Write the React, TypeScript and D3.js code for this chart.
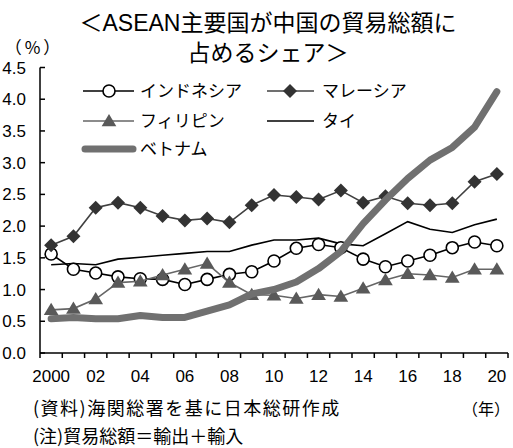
import React from "react";
import * as d3 from "d3";

// Years on the category axis
const years: string[] = [
  "2000", "2001", "2002", "2003", "2004", "2005", "2006", "2007", "2008", "2009", "2010",
  "2011", "2012", "2013", "2014", "2015", "2016", "2017", "2018", "2019", "2020",
];
const yearLabels: Record<string, string> = {
  "2000": "2000", "2002": "02", "2004": "04", "2006": "06", "2008": "08", "2010": "10",
  "2012": "12", "2014": "14", "2016": "16", "2018": "18", "2020": "20",
};
const yTicks: number[] = [0, 0.5, 1, 1.5, 2, 2.5, 3, 3.5, 4, 4.5];

// Share of China's total trade (%)
const indonesia: number[] = [1.56, 1.32, 1.26, 1.2, 1.17, 1.16, 1.08, 1.16, 1.24, 1.28, 1.45, 1.65, 1.71, 1.66, 1.48, 1.36, 1.45, 1.54, 1.66, 1.75, 1.69];
const malaysia: number[] = [1.7, 1.84, 2.29, 2.37, 2.29, 2.16, 2.09, 2.12, 2.06, 2.33, 2.49, 2.46, 2.42, 2.56, 2.37, 2.47, 2.36, 2.33, 2.36, 2.7, 2.82];
const philippines: number[] = [0.68, 0.7, 0.85, 1.11, 1.13, 1.23, 1.32, 1.41, 1.11, 0.92, 0.91, 0.86, 0.92, 0.89, 1.02, 1.15, 1.25, 1.23, 1.19, 1.32, 1.32];
const thailand: number[] = [1.39, 1.41, 1.39, 1.48, 1.51, 1.54, 1.57, 1.6, 1.6, 1.7, 1.78, 1.78, 1.81, 1.72, 1.69, 1.88, 2.07, 1.95, 1.9, 2.02, 2.11];
const vietnam: number[] = [0.54, 0.56, 0.54, 0.54, 0.59, 0.56, 0.56, 0.66, 0.76, 0.93, 1.0, 1.12, 1.33, 1.6, 2.04, 2.41, 2.75, 3.04, 3.24, 3.56, 4.12];

const W = 513;
const H = 448;
const LATIN = "'Liberation Sans', Arial, 'Noto Sans CJK JP', sans-serif";
const CJK = "'Noto Sans CJK JP', 'Liberation Sans', sans-serif";

const x = d3.scaleBand<string>().domain(years).range([40, 508]).paddingInner(0).paddingOuter(0);
const y = d3.scaleLinear().domain([0, 4.5]).range([353, 67.5]);
const cx = (yr: string) => (x(yr) as number) + x.bandwidth() / 2;

const lineGen = d3
  .line<number>()
  .x((_, i) => cx(years[i]))
  .y((v) => y(v));

const diamond = (px: number, py: number, r: number) =>
  `M${px},${py - r}L${px + r},${py}L${px},${py + r}L${px - r},${py}Z`;
const triangle = (px: number, py: number, r: number) =>
  `M${px},${py - r}L${px + r * 1.05},${py + r * 0.75}L${px - r * 1.05},${py + r * 0.75}Z`;

const MAL_LINE = "#404040";
const MAL_MARK = "#333";
const PHI_LINE = "#666";
const PHI_MARK = "#595959";
const VN = "#707070";

export default function App() {
  const step = x.step();
  const boundaries = d3.range(years.length + 1).map((i) => 40 + i * step);

  const legendRows = [91, 121, 149];

  return (
    <svg width={W} height={H} style={{ position: "absolute", left: 0, top: 0, background: "#fff" }}>
      <rect width={W} height={H} fill="#fff" />
      {/* Title */}
      <text x={268} y={31} textAnchor="middle" fontFamily={LATIN} fontSize={23} fill="#000">
        ＜ASEAN主要国が中国の貿易総額に
      </text>
      <text x={268} y={61} textAnchor="middle" fontFamily={CJK} fontSize={23} fill="#000">
        占めるシェア＞
      </text>
      <text x={34} y={54} textAnchor="middle" fontFamily={CJK} fontSize={17} letterSpacing={3} fill="#000">
        （%）
      </text>

      {/* Axes */}
      <line x1={40} x2={40} y1={y(4.5)} y2={y(0)} stroke="#000" strokeWidth={1.5} />
      <line x1={40} x2={508} y1={y(0)} y2={y(0)} stroke="#000" strokeWidth={1.5} />
      {yTicks.map((t) => (
        <g key={t}>
          <line x1={40} x2={45} y1={y(t)} y2={y(t)} stroke="#000" strokeWidth={1.5} />
          <text x={26} y={y(t) + 6} textAnchor="end" fontFamily={LATIN} fontSize={17} fill="#000">
            {t.toFixed(1)}
          </text>
        </g>
      ))}
      {boundaries.map((bx, i) => (
        <line key={i} x1={bx} x2={bx} y1={y(0)} y2={y(0) + 5} stroke="#000" strokeWidth={1.5} />
      ))}
      {years.filter((yr) => yearLabels[yr]).map((yr) => (
        <text key={yr} x={cx(yr)} y={382} textAnchor="middle" fontFamily={LATIN} fontSize={17} fill="#000">
          {yearLabels[yr]}
        </text>
      ))}

      {/* Series */}
      <path d={lineGen(thailand) || ""} fill="none" stroke="#000" strokeWidth={1.6} />
      <path d={lineGen(indonesia) || ""} fill="none" stroke="#000" strokeWidth={1.6} />
      {indonesia.map((v, i) => (
        <circle key={i} cx={cx(years[i])} cy={y(v)} r={6} fill="#fff" stroke="#000" strokeWidth={1.6} />
      ))}
      <path d={lineGen(malaysia) || ""} fill="none" stroke={MAL_LINE} strokeWidth={1.6} />
      {malaysia.map((v, i) => (
        <path key={i} d={diamond(cx(years[i]), y(v), 7)} fill={MAL_MARK} />
      ))}
      <path d={lineGen(philippines) || ""} fill="none" stroke={PHI_LINE} strokeWidth={1.6} />
      {philippines.map((v, i) => (
        <path key={i} d={triangle(cx(years[i]), y(v), 7)} fill={PHI_MARK} />
      ))}
      <path d={lineGen(vietnam) || ""} fill="none" stroke={VN} strokeWidth={7} strokeLinejoin="round" strokeLinecap="round" />

      {/* Legend */}
      <g fontFamily={CJK} fontSize={17} fill="#000">
        <line x1={83} x2={134} y1={legendRows[0]} y2={legendRows[0]} stroke="#000" strokeWidth={1.6} />
        <circle cx={109} cy={legendRows[0]} r={6} fill="#fff" stroke="#000" strokeWidth={1.6} />
        <text x={140} y={legendRows[0] + 6}>インドネシア</text>

        <line x1={267} x2={314} y1={legendRows[0]} y2={legendRows[0]} stroke={MAL_LINE} strokeWidth={1.6} />
        <path d={diamond(290, legendRows[0], 7)} fill={MAL_MARK} />
        <text x={322} y={legendRows[0] + 6}>マレーシア</text>

        <line x1={83} x2={134} y1={legendRows[1]} y2={legendRows[1]} stroke={PHI_LINE} strokeWidth={1.6} />
        <path d={triangle(109, legendRows[1], 7)} fill={PHI_MARK} />
        <text x={140} y={legendRows[1] + 6}>フィリピン</text>

        <line x1={267} x2={314} y1={legendRows[1]} y2={legendRows[1]} stroke="#000" strokeWidth={1.6} />
        <text x={322} y={legendRows[1] + 6}>タイ</text>

        <line x1={85} x2={133} y1={legendRows[2]} y2={legendRows[2]} stroke={VN} strokeWidth={7} strokeLinecap="round" />
        <text x={140} y={legendRows[2] + 6}>ベトナム</text>
      </g>

      {/* Notes */}
      <g fontFamily={CJK} fontSize={18} fill="#000">
        <text x={33} y={415} letterSpacing={1.5}>(資料)海関総署を基に日本総研作成</text>
        <text x={33} y={443}>(注)貿易総額＝輸出＋輸入</text>
        <text x={510} y={415} textAnchor="end" fontSize={16}>（年）</text>
      </g>
    </svg>
  );
}
